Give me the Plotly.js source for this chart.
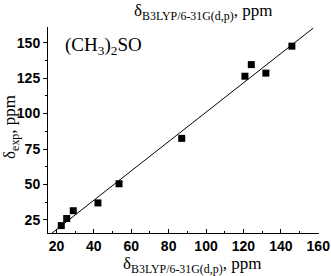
<!DOCTYPE html>
<html>
<head>
<meta charset="utf-8">
<script src="https://cdn.plot.ly/plotly-3.0.1.min.js"></script>
<style>html,body{margin:0;padding:0;background:#fff;}#chart{width:331px;height:276px;}</style>
</head>
<body>
<div id="chart"></div>
<script>
// Data
const calcShift = [22.6, 25.5, 29.0, 42.2, 53.5, 87.0, 120.8, 124.2, 132.0, 145.9];
const expShift  = [21.0, 26.0, 31.5, 37.0, 50.5, 82.5, 126.3, 134.5, 128.5, 147.5];
const fitX = [17.4, 157.3];
const fitY = [15.5, 160.2];
const xTickVals = [20, 40, 60, 80, 100, 120, 140, 160];
const yTickVals = [25, 50, 75, 100, 125, 150];
const titleCalc = 'δ<sub>B3LYP/6-31G(d,p)</sub>, ppm';
const titleExp = 'δ<sub>exp</sub>, ppm';
const compoundLabel = '(CH<sub>3</sub>)<sub>2</sub>SO';

const serif = 'Liberation Serif, Times New Roman, serif';
const sans = 'Liberation Sans, Arial, sans-serif';
const titleFont = {family: serif, size: 17, color: '#000'};

const traces = [
  {x: fitX, y: fitY, mode: 'lines', line: {color: '#000', width: 1}, hoverinfo: 'skip'},
  {x: calcShift, y: expShift, mode: 'markers', marker: {symbol: 'square', size: 7, color: '#000'}}
];

const layout = {
  width: 331, height: 276,
  margin: {l: 48, r: 12, t: 27, b: 43},
  paper_bgcolor: '#fff', plot_bgcolor: '#fff',
  showlegend: false,
  xaxis: {
    range: [15.5, 160.4], tickvals: xTickVals, ticks: 'inside', ticklen: 4, tickwidth: 1, tickcolor: '#000',
    minor: {dtick: 10, tick0: 10, ticks: 'inside', ticklen: 2, tickcolor: '#000'},
    showline: true, linecolor: '#000', linewidth: 1, showgrid: false, zeroline: false, mirror: false,
    tickfont: {family: sans, size: 14, color: '#000', weight: 'bold'}
  },
  yaxis: {
    range: [15.8, 161], tickvals: yTickVals, ticks: 'outside', ticklen: 4, tickwidth: 1, tickcolor: '#000',
    minor: {dtick: 12.5, tick0: 0, ticks: 'outside', ticklen: 2, tickcolor: '#000'},
    showline: true, linecolor: '#000', linewidth: 1, showgrid: false, zeroline: false, mirror: false,
    tickfont: {family: sans, size: 14, color: '#000', weight: 'bold'}
  },
  annotations: [
    {text: titleCalc, xref: 'paper', yref: 'paper', x: 0.572, y: 1.0, yshift: 15, xanchor: 'center', yanchor: 'middle',
     showarrow: false, font: titleFont},
    {text: titleCalc, xref: 'paper', yref: 'paper', x: 0.531, y: 0, yshift: -32, xanchor: 'center', yanchor: 'middle',
     showarrow: false, font: titleFont},
    {text: titleExp, xref: 'paper', yref: 'paper', x: 0, xshift: -37, y: 0.515, textangle: -90,
     xanchor: 'center', yanchor: 'middle', showarrow: false, font: titleFont},
    {text: compoundLabel, xref: 'paper', yref: 'paper', x: 0.055, y: 0.91, xanchor: 'left', yanchor: 'middle',
     showarrow: false, font: {family: serif, size: 19, color: '#000'}}
  ]
};

Plotly.newPlot('chart', traces, layout, {displayModeBar: false, staticPlot: true});
</script>
</body>
</html>
